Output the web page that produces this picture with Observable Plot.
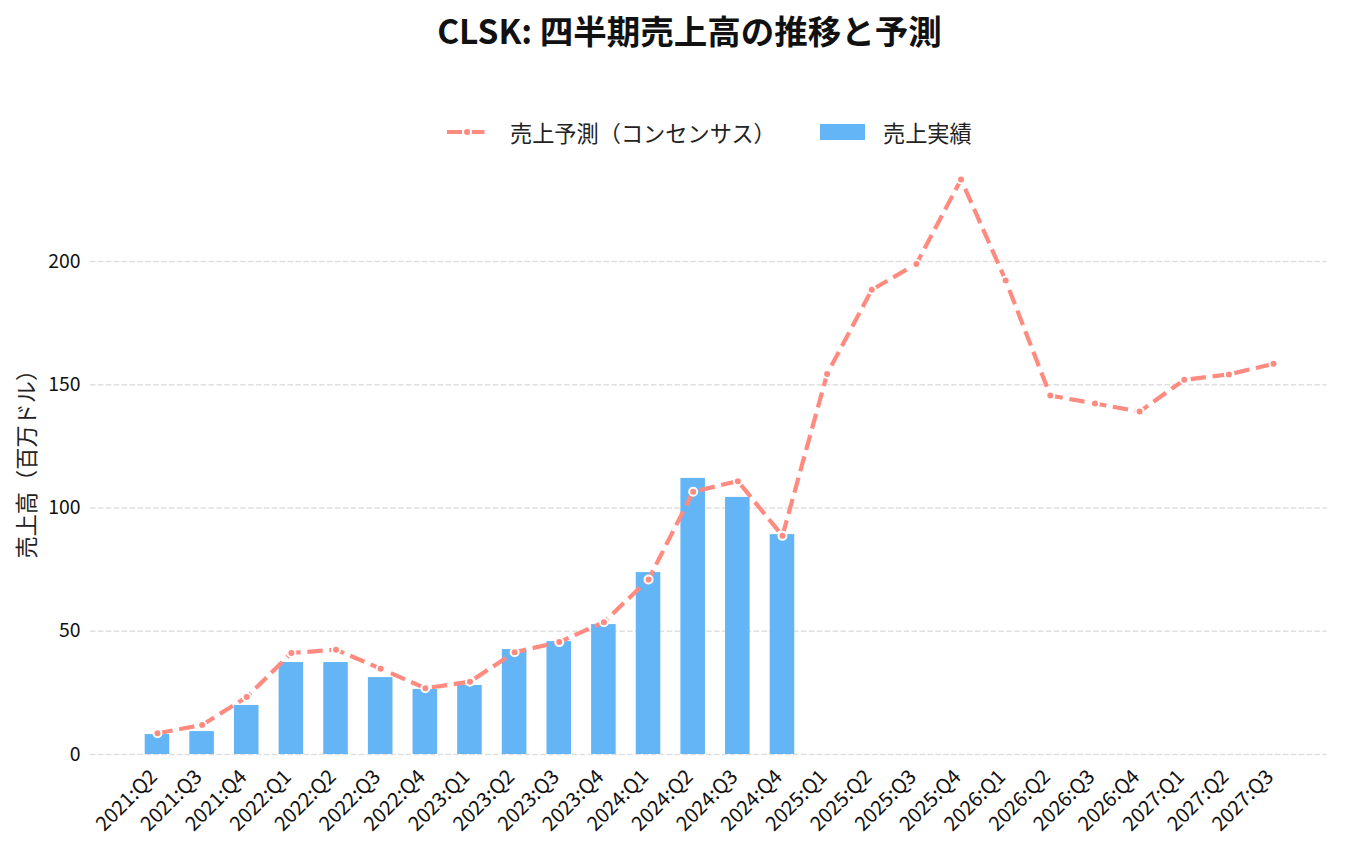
<!DOCTYPE html>
<html>
<head>
<meta charset="utf-8">
<script src="https://cdn.jsdelivr.net/npm/d3@7"></script>
<script src="https://cdn.jsdelivr.net/npm/@observablehq/plot@0.6"></script>
<style>
  html, body { margin: 0; padding: 0; background: #fff; }
  body { font-family: "Noto Sans CJK JP", "Noto Sans", sans-serif; }
  #wrap { width: 1345px; height: 846px; position: relative; overflow: hidden; }
  #header { width: 1345px; height: 150px; position: relative; }
  #title { position: absolute; left: 17px; width: 1345px; top: 8px; text-align: center;
           font-size: 33.5px; font-weight: bold; color: #111; line-height: 44px; }
  .leg { position: absolute; top: 117px; height: 30px; display: flex; align-items: center;
         font-size: 22.2px; color: #222; }
  .leg svg { margin-right: 20px; }
</style>
</head>
<body>
<div id="wrap">
  <div id="header">
    <div id="title">CLSK: 四半期売上高の推移と予測</div>
    <div class="leg" style="left:446px;">
      <svg width="44" height="12"><line x1="1" y1="6" x2="43" y2="6" stroke="#FF8A80" stroke-width="4.2" stroke-dasharray="15.4,6.7"/><circle cx="21" cy="6" r="4" fill="#FF8A80" stroke="#fff" stroke-width="2"/></svg>
      <span id="legLine"></span>
    </div>
    <div class="leg" style="left:820px;">
      <svg width="45" height="16" style="margin-right:18px"><rect x="0" y="0" width="45" height="16" fill="#64B5F6"/></svg>
      <span id="legBar"></span>
    </div>
  </div>
  <div id="chart"></div>
</div>
<script>
// ---- data ----
const quarters = ["2021:Q2","2021:Q3","2021:Q4","2022:Q1","2022:Q2","2022:Q3","2022:Q4",
  "2023:Q1","2023:Q2","2023:Q3","2023:Q4","2024:Q1","2024:Q2","2024:Q3","2024:Q4",
  "2025:Q1","2025:Q2","2025:Q3","2025:Q4","2026:Q1","2026:Q2","2026:Q3","2026:Q4",
  "2027:Q1","2027:Q2","2027:Q3"];
const actualRevenue = [8.1, 9.3, 19.9, 37.3, 37.3, 31.2, 26.4, 28.0, 42.6, 45.8, 52.7, 73.8, 112.0, 104.3, 89.2];
const forecastRevenue = [8.6, 12.0, 23.3, 41.2, 42.5, 34.8, 26.9, 29.5, 41.5, 45.6, 53.7, 71.0, 106.6, 110.9, 88.7,
  154.4, 188.5, 199.0, 233.3, 192.3, 145.6, 142.4, 139.1, 152.0, 154.2, 158.5];
const yTicks = [0, 50, 100, 150, 200];
const seriesNames = ["売上予測（コンセンサス）", "売上実績"];
const yLabel = "売上高（百万ドル）";

document.getElementById("legLine").textContent = seriesNames[0];
document.getElementById("legBar").textContent = seriesNames[1];

const actual = actualRevenue.map((v, i) => ({i, v}));
const forecast = forecastRevenue.map((v, i) => ({i, v}));
const labels = quarters.map((q, i) => ({i, q}));

const lineColor = "#FF8A80";
const barColor = "#64B5F6";
const halfBar = 0.275;

const chart = Plot.plot({
  width: 1345,
  height: 696,
  marginLeft: 90,
  marginRight: 18.4,
  marginTop: 12.4,
  marginBottom: 92,
  style: { fontFamily: "'Noto Sans CJK JP', 'Noto Sans', sans-serif", background: "white" },
  x: { type: "linear", domain: [-1.5, 26.2], axis: null },
  y: { domain: [0, 240], axis: null },
  marks: [
    Plot.ruleY(yTicks, { stroke: "#e0e0e0", strokeWidth: 1.3, strokeDasharray: "5.5,2.4" }),
    Plot.rectY(actual, { x1: d => d.i - halfBar, x2: d => d.i + halfBar, y: "v", fill: barColor }),
    Plot.line(forecast, { x: "i", y: "v", stroke: lineColor, strokeWidth: 4.2,
      strokeDasharray: "15.4,6.7", strokeLinecap: "butt", strokeLinejoin: "miter" }),
    Plot.dot(forecast, { x: "i", y: "v", r: 4, fill: lineColor, stroke: "white", strokeWidth: 2 }),
    Plot.axisY({ ticks: yTicks, tickSize: 0, tickPadding: 10, fontSize: 19.4, label: null, color: "#111" }),
    Plot.text(labels, { x: "i", y: 0, text: "q", dy: 19, dx: -3.5, rotate: -45, textAnchor: "end",
      fontSize: 20.2, fill: "#111" }),
    Plot.text([yLabel], { frameAnchor: "left", dx: -63, rotate: -90, textAnchor: "middle",
      fontSize: 22.2, fill: "#222" })
  ]
});
document.getElementById("chart").appendChild(chart);
</script>
</body>
</html>
